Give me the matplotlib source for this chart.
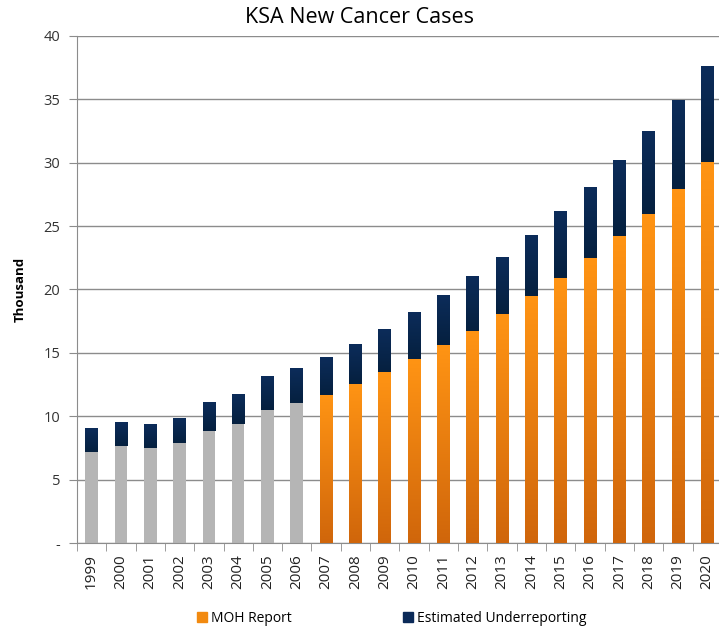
import numpy as np
import matplotlib.pyplot as plt
from matplotlib.patches import Patch
from matplotlib.colors import LinearSegmentedColormap

years = [str(y) for y in range(1999, 2021)]
moh_report = [7.18, 7.63, 7.47, 7.9, 8.82, 9.42, 10.53, 11.05, 11.66, 12.55, 13.53,
              14.5, 15.6, 16.76, 18.07, 19.45, 20.89, 22.49, 24.18, 25.94, 27.92, 30.05]
total_cases = [9.05, 9.5, 9.31, 9.84, 11.03, 11.74, 13.16, 13.79, 14.58, 15.68, 16.92,
               18.18, 19.52, 21.05, 22.55, 24.26, 26.12, 28.07, 30.12, 32.47, 34.88, 37.57]
underreporting = [t - m for t, m in zip(total_cases, moh_report)]
estimated_years = 8  # 1999-2006 shown in grey

plt.rcParams['font.family'] = ['Open Sans', 'DejaVu Sans']

fig = plt.figure(figsize=(7.19, 6.3), dpi=100)
ax = fig.add_axes([0.107, 0.138, 0.897, 0.805])

x = np.arange(len(years))
w = 0.43
base_colors = ['#b5b5b5'] * estimated_years + ['#f28a10'] * (len(years) - estimated_years)
bars_moh = ax.bar(x, moh_report, w, color=base_colors, zorder=2)
bars_under = ax.bar(x, underreporting, w, bottom=moh_report, color='#0b2a58', zorder=2)

orange_cm = LinearSegmentedColormap.from_list('org', ['#d0660b', '#ff9414'])
navy_cm = LinearSegmentedColormap.from_list('nav', ['#05203f', '#0c2c5a'])
grad = np.linspace(0, 1, 100).reshape(-1, 1)

def fill_gradient(bar, cmap):
    x0, y0 = bar.get_x(), bar.get_y()
    ax.imshow(grad, cmap=cmap, origin='lower', aspect='auto', zorder=3,
              extent=[x0, x0 + bar.get_width(), y0, y0 + bar.get_height()])

for i, b in enumerate(bars_moh):
    if i >= estimated_years:
        fill_gradient(b, orange_cm)
for b in bars_under:
    fill_gradient(b, navy_cm)

ax.set_xlim(-0.5, len(years) - 0.5)
ax.set_ylim(0, 40)
ax.set_yticks(range(0, 41, 5))
ax.set_yticklabels(['-'] + [str(v) for v in range(5, 41, 5)])
ax.set_xticks(x)
ax.set_xticklabels(years, rotation=90)
ax.set_xticks(np.arange(-0.5, len(years)), minor=True)
ax.tick_params(axis='x', which='major', length=0, pad=8, labelsize=11, labelcolor='#222222')
ax.tick_params(axis='x', which='minor', length=6, color='#8c8c8c')
ax.tick_params(axis='y', length=6, color='#8c8c8c', labelsize=10.5, labelcolor='#333333', pad=6)

ax.grid(axis='y', color='#8c8c8c', linewidth=1)
ax.set_axisbelow(True)
for s in ['top', 'right']:
    ax.spines[s].set_visible(False)
for s in ['left', 'bottom']:
    ax.spines[s].set_color('#8c8c8c')

ax.set_ylabel('Thousand', fontweight='bold', fontsize=9.5, labelpad=12)
fig.text(0.5, 0.973, 'KSA New Cancer Cases', fontsize=15.5, ha='center', va='center')

handles = [Patch(color='#f28a10'), Patch(color='#0b2a58')]
fig.legend(handles, ['MOH Report', 'Estimated Underreporting'], loc='center',
           bbox_to_anchor=(0.545, 0.018), ncol=2, frameon=False, fontsize=10,
           handlelength=0.7, handleheight=0.7, handletextpad=0.3, columnspacing=8)

fig.savefig('out.png', dpi=100)
